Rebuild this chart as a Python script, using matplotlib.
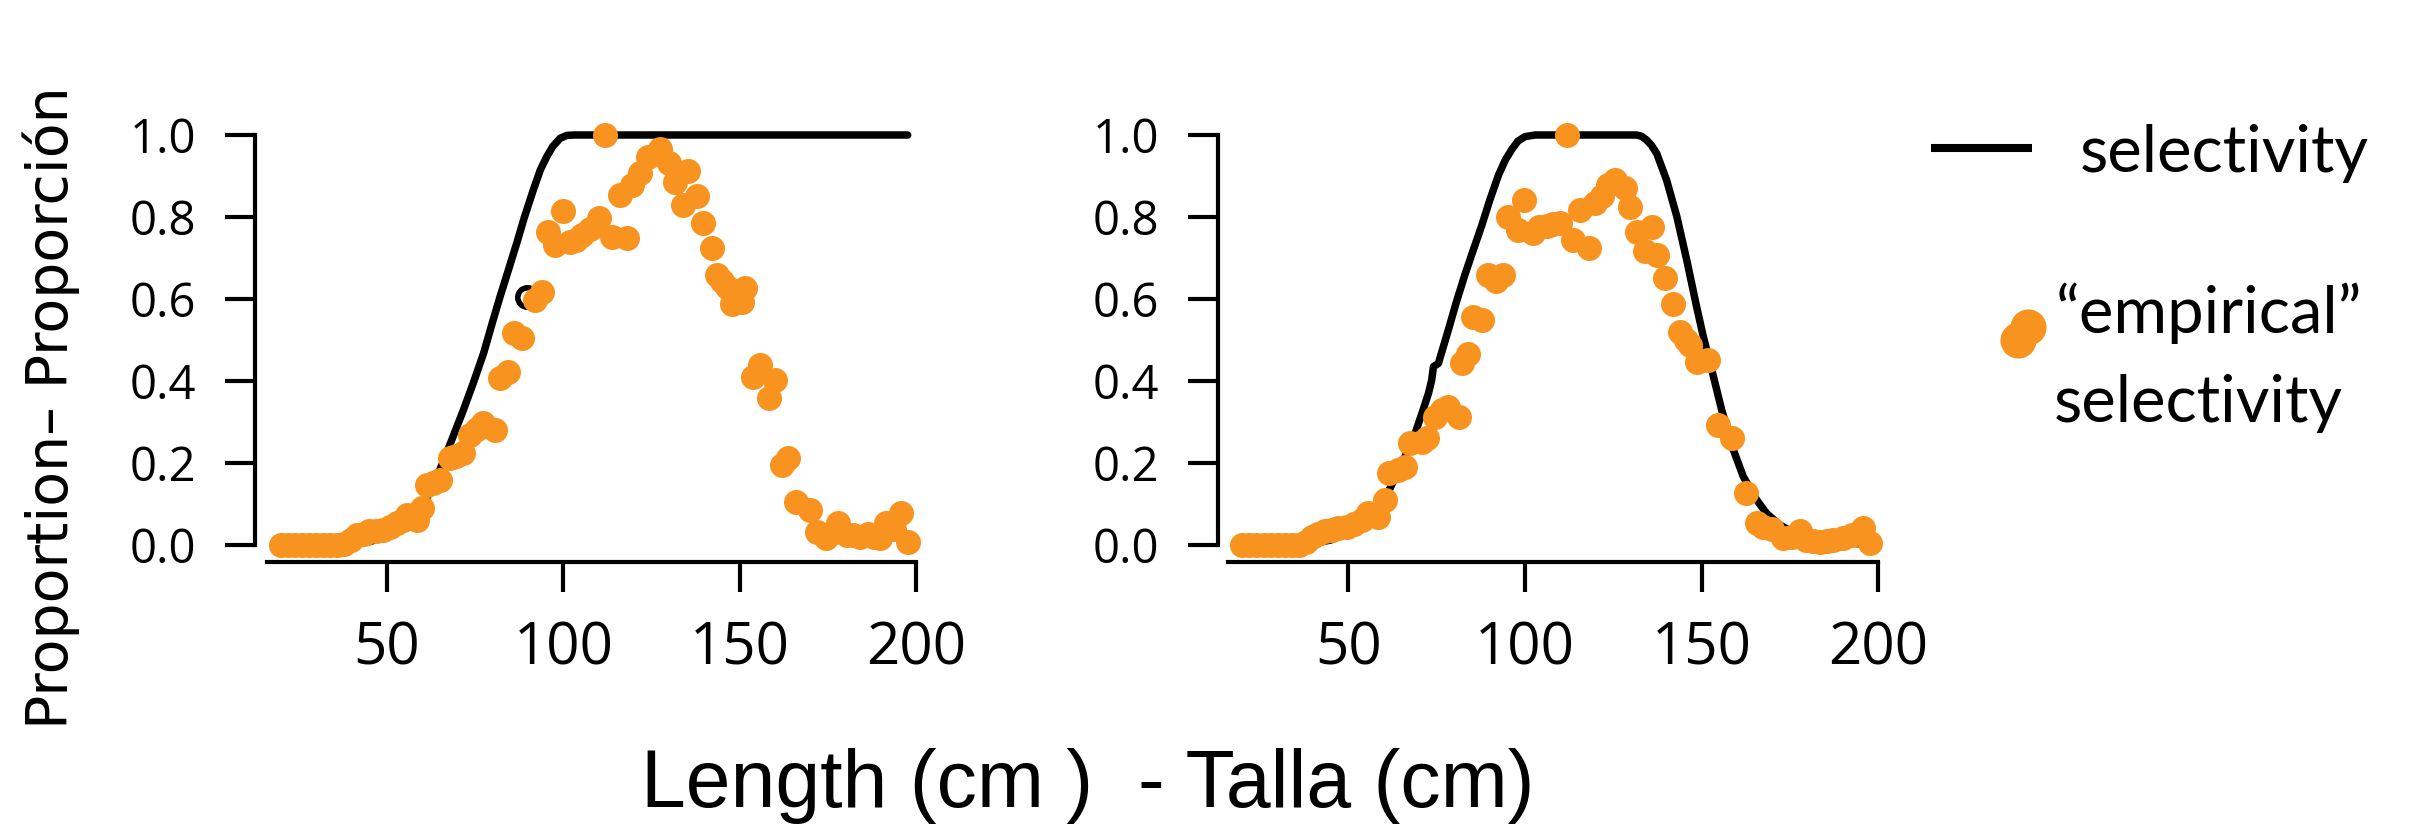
import matplotlib
matplotlib.use("Agg")
import matplotlib.pyplot as plt
from matplotlib.lines import Line2D

# left panel: "empirical" selectivity points (length cm, proportion)
left_len = [20, 22, 24, 26, 28, 30, 32, 34, 36, 38,
            40, 41.5, 43.5, 45.1, 47, 48.9, 51, 52.8, 54.5, 55.6,
            58.5, 59.9, 61.3, 63, 65.1, 67.9, 69.5, 71.7, 73.6, 75.5,
            77.3, 80.7, 82.1, 84.4, 85.9, 88.2, 92.0, 93.9, 95.8, 97.6,
            100.0, 101.9, 103.5, 105.2, 107.5, 110.0, 111.8, 113.7, 116.1, 118.0,
            119.4, 121.7, 124.1, 127.4, 129.8, 131.6, 134.0, 135.4, 137.8, 139.6,
            142.0, 143.4, 145.0, 146.3, 147.7, 150.5, 151.4, 153.8, 155.7, 158.1,
            160.0, 161.8, 163.7, 166.0, 169.8, 171.7, 174.5, 176.0, 177.8, 180.2,
            182.0, 184.0, 186.3, 188.0, 189.6, 191.5, 193.5, 195.7, 197.6]
left_prop = [0, 0, 0, 0, 0, 0, 0, 0, 0, 0.003,
             0.012, 0.024, 0.028, 0.033, 0.035, 0.037, 0.045, 0.053, 0.062, 0.072,
             0.062, 0.089, 0.146, 0.150, 0.158, 0.211, 0.216, 0.224, 0.268, 0.282,
             0.297, 0.281, 0.407, 0.423, 0.516, 0.504, 0.597, 0.618, 0.764, 0.732,
             0.815, 0.740, 0.745, 0.756, 0.770, 0.797, 1.000, 0.752, 0.854, 0.748,
             0.878, 0.907, 0.947, 0.967, 0.931, 0.886, 0.829, 0.911, 0.850, 0.785,
             0.724, 0.659, 0.645, 0.630, 0.589, 0.593, 0.626, 0.410, 0.439, 0.358,
             0.403, 0.195, 0.212, 0.106, 0.085, 0.032, 0.016, 0.030, 0.053, 0.024,
             0.025, 0.020, 0.028, 0.020, 0.016, 0.053, 0.040, 0.077, 0.008]
# one point drawn as an open black circle
left_open_len = [89.6]
left_open_prop = [0.606]

# left panel: fitted selectivity curve
left_curve_len = [20, 30, 40, 45, 50, 54, 58, 62, 65.6, 68.4, 71.7, 74.5, 77.4,
                  80, 82.1, 84.5, 86.8, 89, 91.5, 93.5, 95.3, 97, 99.1, 101, 103, 197.5]
left_curve_sel = [0, 0, 0.003, 0.008, 0.02, 0.04, 0.07, 0.125, 0.195, 0.256, 0.329, 0.395, 0.467,
                  0.545, 0.606, 0.672, 0.736, 0.80, 0.866, 0.915, 0.947, 0.972, 0.992, 0.999, 1.0, 1.0]

# right panel: "empirical" selectivity points
right_len = [20, 22, 24, 26, 28, 30, 32, 34, 36,
             38, 39.6, 41.5, 43.4, 45.3, 47.2, 49.6, 51.7, 53.8, 55.7,
             58.5, 60.4, 61.4, 64.2, 66.1, 67.5, 70.8, 72.2, 74.6, 76.5,
             78.3, 81.2, 82.1, 84.0, 85.4, 87.8, 89.6, 91.7, 93.9, 95.3,
             98.1, 99.6, 102.4, 104.0, 106.2, 108.0, 109.9, 112.0, 113.7, 115.6,
             118.0, 119.9, 121.8, 123.6, 125.5, 128.3, 129.7, 131.6, 133.9, 135.9,
             137.5, 139.6, 142.0, 143.9, 145.5, 146.7, 148.6, 151.9, 154.7, 158.5,
             162.7, 165.6, 167.5, 169.8, 173.1, 175.5, 177.8, 179.7, 181.5, 183.5,
             185.5, 187.3, 190.1, 192.5, 195.8, 197.7]
right_prop = [0, 0, 0, 0, 0, 0, 0, 0, 0,
              0.008, 0.020, 0.027, 0.033, 0.037, 0.041, 0.045, 0.052, 0.061, 0.077,
              0.069, 0.110, 0.175, 0.183, 0.191, 0.248, 0.252, 0.260, 0.313, 0.330,
              0.337, 0.313, 0.443, 0.467, 0.557, 0.549, 0.659, 0.645, 0.659, 0.801,
              0.768, 0.842, 0.762, 0.775, 0.778, 0.783, 0.786, 1.000, 0.745, 0.817,
              0.724, 0.833, 0.850, 0.878, 0.890, 0.870, 0.825, 0.764, 0.716, 0.776,
              0.708, 0.651, 0.589, 0.520, 0.500, 0.488, 0.447, 0.451, 0.293, 0.260,
              0.127, 0.054, 0.045, 0.038, 0.016, 0.020, 0.033, 0.012, 0.010, 0.008,
              0.010, 0.012, 0.016, 0.024, 0.041, 0.004]

# right panel: fitted (dome-shaped) selectivity curve
right_curve_len = [20, 30, 40, 45, 50, 55, 58, 61.8, 65, 68.9, 71, 72.7, 73.6, 74.1, 75.5,
                   78.3, 80.5, 83.0, 85.4, 87.8, 90, 92.5, 94.5, 96.3, 98, 100, 102.9,
                   131.6, 133, 134.4, 135.8, 137.3, 140.1, 143.0, 145.8, 148.6, 150.5,
                   152.9, 155.7, 159.0, 161.8, 165.6, 168.4, 172, 176, 180, 186, 192, 197.5]
right_curve_sel = [0, 0, 0.004, 0.012, 0.03, 0.06, 0.09, 0.138, 0.195, 0.272, 0.325, 0.37, 0.402, 0.435, 0.443,
                   0.524, 0.59, 0.659, 0.72, 0.78, 0.84, 0.902, 0.94, 0.965, 0.985, 0.996, 1.0,
                   1.0, 0.997, 0.988, 0.975, 0.955, 0.89, 0.801, 0.695, 0.581, 0.508,
                   0.427, 0.329, 0.232, 0.167, 0.110, 0.077, 0.05, 0.03, 0.018, 0.008, 0.004, 0.002]

x_ticks = [50, 100, 150, 200]
y_ticks = [0.0, 0.2, 0.4, 0.6, 0.8, 1.0]

ORANGE = "#F7931E"
W, H = 2412, 825

plt.rcParams["font.family"] = ["Open Sans", "DejaVu Sans"]
fig = plt.figure(figsize=(W / 100, H / 100), dpi=100)
fig.patch.set_facecolor("white")


def px_box(left, right, top, bottom):
    return [left / W, 1 - bottom / H, (right - left) / W, (bottom - top) / H]


def draw_panel(ax, x_lo, lens, props, curve_len, curve_sel):
    ax.plot(curve_len, curve_sel, color="black", lw=5.4,
            solid_capstyle="round", clip_on=False, zorder=2)
    ax.plot(lens, props, "o", ms=18, color=ORANGE, mec="none",
            clip_on=False, zorder=3)
    ax.set_xlim(x_lo, 200)
    ax.set_ylim(-0.0415, 1.0)
    ax.spines[["top", "right"]].set_visible(False)
    ax.spines["left"].set_bounds(0, 1)
    ax.spines["bottom"].set_bounds(16, 200)
    for s in ax.spines.values():
        s.set_linewidth(3)
    ax.set_xticks(x_ticks)
    ax.set_yticks(y_ticks)
    ax.set_yticklabels([f"{v:.1f}" for v in y_ticks])
    ax.tick_params(direction="out", length=21.6, width=3)
    ax.tick_params(axis="x", labelsize=42, pad=20)
    ax.tick_params(axis="y", labelsize=34, pad=21)
    ax.patch.set_visible(False)


ax1 = fig.add_axes(px_box(255, 916.5, 135, 562))
draw_panel(ax1, 12.7, left_len, left_prop, left_curve_len, left_curve_sel)
ax1.plot(left_open_len, left_open_prop, "o", ms=14, mfc="none", mec="black",
         mew=4, zorder=2.5, clip_on=False)

ax2 = fig.add_axes(px_box(1218.3, 1878.2, 135, 562))
draw_panel(ax2, 13.2, right_len, right_prop, right_curve_len, right_curve_sel)

# axis titles shared by both panels
fig.text(1088 / W, 1 - 807 / H, "Length (cm )  - Talla (cm)",
         family="Liberation Sans", fontsize=58, ha="center", va="baseline")
fig.text(51 / W, 1 - 408 / H, "Proportion– Proporción", family="DejaVu Sans",
         fontsize=41, rotation=90, ha="center", va="center")

# legend
fig.add_artist(Line2D([1931 / W, 2032 / W], [1 - 148 / H, 1 - 148 / H],
                      color="black", lw=5.8, solid_capstyle="butt"))
fig.add_artist(Line2D([2018 / W, 2028 / W], [1 - 340 / H, 1 - 327 / H],
                      ls="none", marker="o", ms=26, color=ORANGE, mec="none"))
legend_font = dict(family="Lato", fontsize=47, ha="left", va="baseline")
fig.text(2080 / W, 1 - 172 / H, "selectivity", **legend_font)
fig.text(2056 / W, 1 - 333 / H, "\u201cempirical\u201d", **legend_font)
fig.text(2054 / W, 1 - 422 / H, "selectivity", **legend_font)

fig.savefig("out.png", dpi=100, facecolor="white")
